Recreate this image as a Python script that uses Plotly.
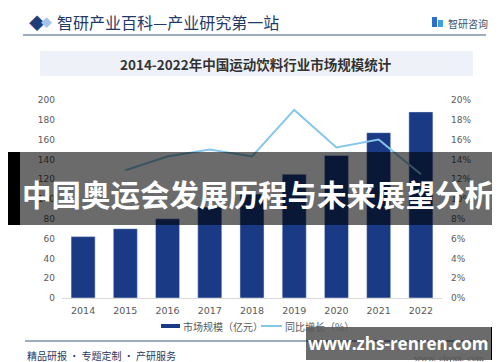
import plotly.graph_objects as go

years = ["2014", "2015", "2016", "2017", "2018", "2019", "2020", "2021", "2022"]
market_size = [62, 70, 80, 92, 105, 125, 144, 167, 188]
growth_years = ["2015", "2016", "2017", "2018", "2019", "2020", "2021", "2022"]
growth_pct = [12.9, 14.3, 15.0, 14.3, 19.0, 15.2, 16.0, 12.5]

W, H = 500, 362
L, R, T, B = 54, 434, 92, 290  # plot area pixels


def px(x):
    return (x - L) / (R - L)


def py(y):
    return (B - y) / (B - T)


CJK = "Noto Sans CJK SC"
NAVY = "#1a3a85"
LIGHT = "#86c6ea"

fig = go.Figure()
fig.add_trace(go.Bar(x=years, y=market_size, marker_color=NAVY, name="市场规模（亿元）",
                     showlegend=False, yaxis="y"))
fig.add_trace(go.Scatter(x=growth_years, y=growth_pct, mode="lines", line=dict(color=LIGHT, width=2),
                         name="同比增长（%）", showlegend=False, yaxis="y2"))

shapes = []
ann = []


def text(x, y, t, size, color, family=CJK, xanchor="left"):
    ann.append(dict(x=px(x), y=py(y), xref="paper", yref="paper", text=t, showarrow=False,
                    xanchor=xanchor, yanchor="middle", font=dict(size=size, color=color, family=family)))


def rect(x0, x1, y0, y1, color, layer="above"):
    shapes.append(dict(type="rect", xref="paper", yref="paper", x0=px(x0), x1=px(x1), y0=py(y1), y1=py(y0),
                       fillcolor=color, line=dict(width=0), layer=layer))


def hline(x0, x1, y, color, width=1):
    shapes.append(dict(type="line", xref="paper", yref="paper", x0=px(x0), x1=px(x1), y0=py(y), y1=py(y),
                       line=dict(color=color, width=width)))


# header
text(19, 14, "◆", 16, "#1f3d7a")
text(31, 14, "◆", 11, "#a9c4e8")
text(47, 14, "智研产业百科—产业研究第一站", 16, "#1f3a68")
hline(15, 478, 27, "#3f5a86")
# logo
rect(424, 429, 9, 19, "#2a6fc9")
rect(430, 435, 12, 19, "#3fa0e0")
text(438, 15, "智研咨询", 10, "#3c4f70")

# title box
rect(32, 465, 43, 68, "#eef2f8", layer="below")
text(248, 56, "<b>2014-2022年中国运动饮料行业市场规模统计</b>", 13.5, "#333333", xanchor="center")

# legend (manual)
rect(153, 172, 316, 320, NAVY)
text(173, 318, "市场规模（亿元）", 10, "#595959")
hline(253, 274, 318, LIGHT, 2)
text(275, 318, "同比增长（%）", 10, "#595959")

# footer
hline(17, 480, 333, "#3f5a86")
text(17, 347, "精品研报 · 专题定制 · 产研服务", 10, "#1f3a68")
text(478, 350, "www. chyxx. com", 8, "#555555", family="DejaVu Serif", xanchor="right")

# big overlay banner
rect(0, 500, 144, 217, "rgba(0,0,0,0.58)")
rect(0, 12, 144, 217, "#000000")
rect(487, 500, 144, 217, "#000000")
text(250, 185, "<b>中国奥运会发展历程与未来展望分析</b>", 29.5, "#ffffff", xanchor="center")

# small overlay box
rect(298, 483, 319, 352, "rgba(0,0,0,0.58)")
rect(483, 490, 319, 352, "#000000")
text(390, 335, "<b>www.zhs-renren.com</b>", 17, "#ffffff", family="Open Sans", xanchor="center")

fig.update_layout(
    width=W, height=H,
    margin=dict(l=L, r=W - R, t=T, b=H - B, pad=0),
    paper_bgcolor="white", plot_bgcolor="white",
    bargap=0.43,
    xaxis=dict(type="category", showgrid=False, showline=True, linecolor="#d9d9d9", linewidth=1,
               ticks="", tickfont=dict(size=9.5, color="#595959", family="DejaVu Sans"), ticklabelstandoff=4),
    yaxis=dict(range=[0, 200], dtick=20, showgrid=False, zeroline=False, showline=False,
               tickfont=dict(size=9, color="#595959", family="DejaVu Sans"), ticklabelstandoff=6),
    yaxis2=dict(range=[0, 20], dtick=2, overlaying="y", side="right", showgrid=False, zeroline=False,
                ticksuffix="%", tickfont=dict(size=9, color="#595959", family="DejaVu Sans"),
                ticklabelstandoff=8),
    shapes=shapes, annotations=ann, showlegend=False,
)

fig.write_html("out.html")
